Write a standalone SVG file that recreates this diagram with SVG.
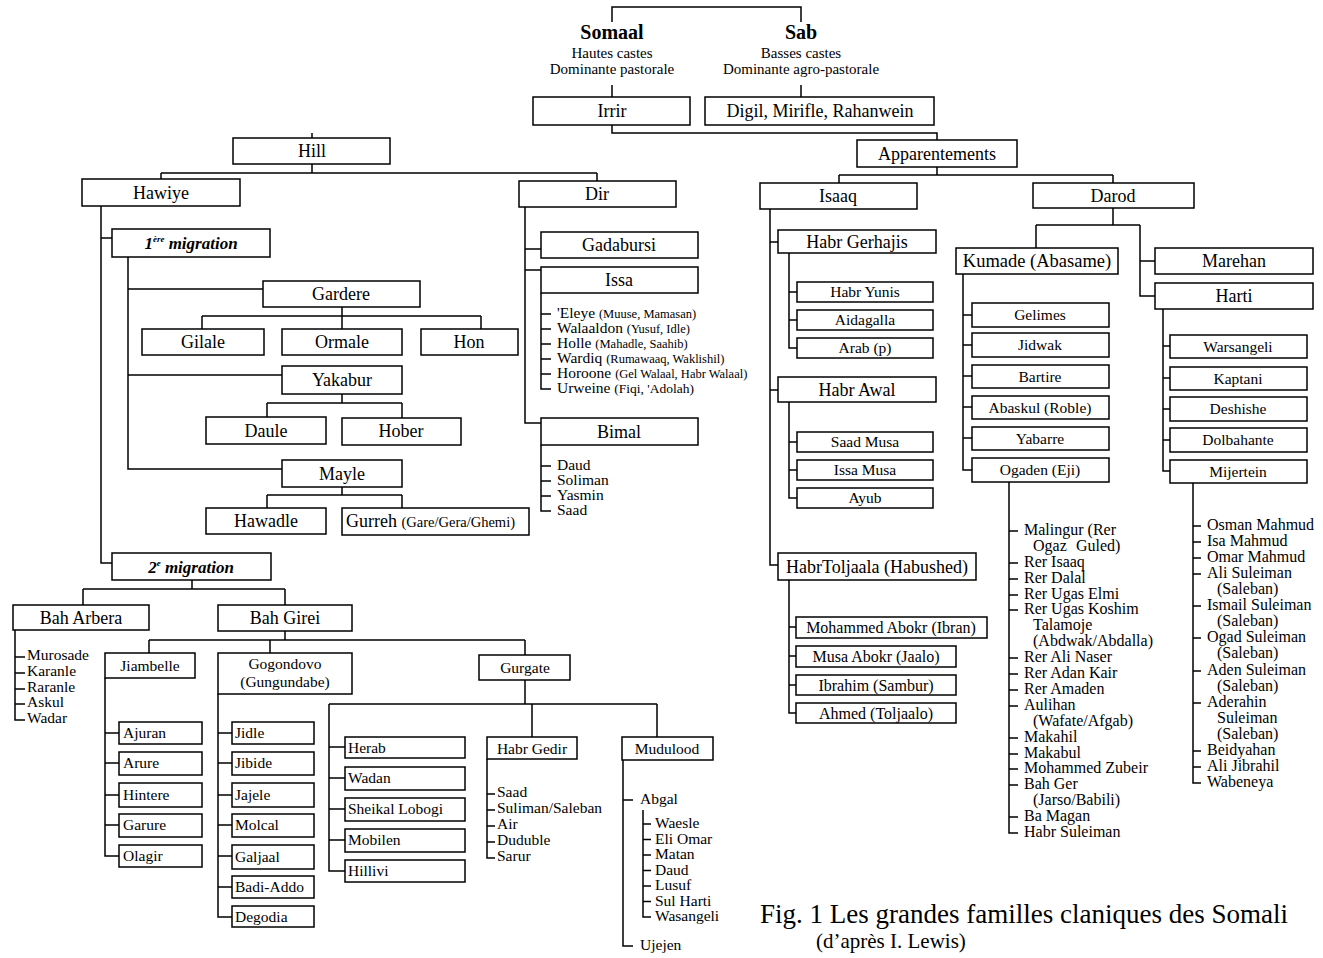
<svg xmlns="http://www.w3.org/2000/svg" width="1323" height="958" viewBox="0 0 1323 958">
<style>
text{font-family:"Liberation Serif","Times New Roman",serif;fill:#000}
.b{fill:#fff;stroke:#000;stroke-width:1.5}
.c{fill:none;stroke:#000;stroke-width:1.5}
.m{text-anchor:middle}
.f18{font-size:18px}
.f16{font-size:16px}
.f15{font-size:15.5px}
.sm{font-size:12.5px}
.bi{font-weight:bold;font-style:italic;font-size:17px}
</style>
<rect width="1323" height="958" fill="#fff"/>
<g id="connectors" class="c">
<path d="M612,22V7H801V22M612,85V97M801,85V97M612,125V133H937V140M312,133V138M312,164V173M161,173H597M161,173V179M597,173V181M937,167V175M839,175H1113M839,175V183M1113,175V183"/>
<path d="M101,206V563H112M101,238H112M128,257V469H282M128,289H263M128,375H282M342,307V316M202,316H481M202,316V329M342,316V329M481,316V329M342,394V403M267,403H402M267,403V417M402,403V418M342,487V495M267,495H402M267,495V508M402,495V508"/>
<path d="M192,580V589M83,589H285M83,589V605M285,589V605M15,630V720H25M15,657H25M15,673H25M15,689H25M15,704H25"/>
<path d="M285,631V640M149,640H525M149,640V653M270,640V653M525,640V655"/>
<path d="M105,678V856H119M105,733H119M105,763H119M105,795H119M105,825H119"/>
<path d="M218,694V917H232M218,733H232M218,763H232M218,795H232M218,825H232M218,856H232M218,887H232"/>
<path d="M525,680V704M329,704H657M329,704V871H345M329,747H345M329,778H345M329,809H345M329,840H345M532,704V737M657,704V737"/>
<path d="M487,759V858H495M487,794H495M487,810H495M487,826H495M487,842H495"/>
<path d="M623,760V946H633M623,800H633M643,810V917H651M643,824H651M643,839.5H651M643,855H651M643,870.5H651M643,886H651M643,901.5H651"/>
<path d="M525,207V423H541M525,249H541M525,270H541M541,293V389H551M541,314H551M541,329H551M541,344H551M541,359H551M541,374H551M541,445V511H551M541,466H551M541,481H551M541,496H551"/>
<path d="M770,209V565H778M770,242H778M770,390H778M789,253V348H797M789,292H797M789,320H797M789,402V498H797M789,442H797M789,470H797M789,580V713H796M789,627H796M789,656H796M789,685H796"/>
<path d="M1113,208V225M1036,225H1140M1036,225V248M1140,225V296H1155M1140,261H1155M963,274V470H972M963,315H972M963,345H972M963,376H972M963,407H972M963,438H972M1163,309V471H1170M1163,346H1170M1163,378H1170M1163,409H1170M1163,440H1170"/>
<path d="M1009,482V833H1018M1009,531H1018M1009,563H1018M1009,579H1018M1009,595H1018M1009,610H1018M1009,658H1018M1009,674H1018M1009,690H1018M1009,706H1018M1009,738H1018M1009,754H1018M1009,769H1018M1009,785H1018M1009,817H1018"/>
<path d="M1193,483V783H1201M1193,526H1201M1193,542H1201M1193,558H1201M1193,574H1201M1193,606H1201M1193,638H1201M1193,671H1201M1193,703H1201M1193,751H1201M1193,767H1201"/>
</g>
<g id="somaal"><text x="612" y="39" class="m" font-size="20" font-weight="bold">Somaal</text><text x="612" y="58" class="m" font-size="15">Hautes castes</text><text x="612" y="74" class="m" font-size="15">Dominante pastorale</text></g>
<g id="sab"><text x="801" y="39" class="m" font-size="20" font-weight="bold">Sab</text><text x="801" y="58" class="m" font-size="15">Basses castes</text><text x="801" y="74" class="m" font-size="15">Dominante agro-pastorale</text></g>
<g id="irrir"><rect class="b" x="533" y="97" width="157" height="28"/><text x="612" y="117" class="m f18">Irrir</text></g>
<g id="digil"><rect class="b" x="705" y="97" width="229" height="28"/><text x="820" y="117" class="m f18">Digil, Mirifle, Rahanwein</text></g>
<g id="hill"><rect class="b" x="233" y="138" width="157" height="26"/><text x="312" y="157" class="m f18">Hill</text></g>
<g id="apparentements"><rect class="b" x="857" y="140" width="160" height="27"/><text x="937" y="159.5" class="m f18">Apparentements</text></g>
<g id="hawiye"><rect class="b" x="82" y="179" width="158" height="27"/><text x="161" y="198.5" class="m f18">Hawiye</text></g>
<g id="dir"><rect class="b" x="519" y="181" width="157" height="26"/><text x="597" y="200" class="m f18">Dir</text></g>
<g id="isaaq"><rect class="b" x="760" y="183" width="157" height="26"/><text x="838" y="202" class="m f18">Isaaq</text></g>
<g id="darod"><rect class="b" x="1033" y="183" width="161" height="25"/><text x="1113" y="201.5" class="m f18">Darod</text></g>
<g id="migration1"><rect class="b" x="112" y="229" width="158" height="28"/><text x="191" y="249" class="m bi">1<tspan font-size="9" dy="-7">ère</tspan><tspan dy="7"> migration</tspan></text></g>
<g id="gardere"><rect class="b" x="263" y="281" width="157" height="26"/><text x="341" y="300" class="m f18">Gardere</text></g>
<g id="gilale"><rect class="b" x="142" y="329" width="122" height="26"/><text x="203" y="348" class="m f18">Gilale</text></g>
<g id="ormale"><rect class="b" x="282" y="329" width="120" height="26"/><text x="342" y="348" class="m f18">Ormale</text></g>
<g id="hon"><rect class="b" x="421" y="329" width="97" height="26"/><text x="469" y="348" class="m f18">Hon</text></g>
<g id="yakabur"><rect class="b" x="282" y="366" width="120" height="28"/><text x="342" y="386" class="m f18">Yakabur</text></g>
<g id="daule"><rect class="b" x="206" y="417" width="120" height="27"/><text x="266" y="437" class="m f18">Daule</text></g>
<g id="hober"><rect class="b" x="342" y="418" width="119" height="27"/><text x="401" y="437" class="m f18">Hober</text></g>
<g id="mayle"><rect class="b" x="282" y="460" width="120" height="27"/><text x="342" y="479.5" class="m f18">Mayle</text></g>
<g id="hawadle"><rect class="b" x="206" y="508" width="120" height="26"/><text x="266" y="527" class="m f18">Hawadle</text></g>
<g id="gurreh"><rect class="b" x="342" y="508" width="187" height="27"/><text x="346" y="527" class="f18">Gurreh <tspan font-size="14.5">(Gare/Gera/Ghemi)</tspan></text></g>
<g id="migration2"><rect class="b" x="112" y="553" width="159" height="27"/><text x="191" y="572.5" class="m bi">2<tspan font-size="9" dy="-7">e</tspan><tspan dy="7"> migration</tspan></text></g>
<g id="baharbera"><rect class="b" x="13" y="605" width="136" height="25"/><text x="81" y="623.5" class="m f18">Bah Arbera</text>
<text class="f15" x="27" y="660">Murosade</text><text class="f15" x="27" y="676">Karanle</text><text class="f15" x="27" y="692">Raranle</text><text class="f15" x="27" y="707">Askul</text><text class="f15" x="27" y="723">Wadar</text></g>
<g id="bahgirei"><rect class="b" x="218" y="605" width="134" height="26"/><text x="285" y="623.5" class="m f18">Bah Girei</text></g>
<g id="jiambelle"><rect class="b" x="105" y="653" width="90" height="25"/><text x="150" y="670.5" class="m f15">Jiambelle</text></g>
<g id="gogondovo"><rect class="b" x="218" y="653" width="134" height="41"/><text x="285" y="669" class="m f15">Gogondovo</text><text x="285" y="687" class="m f15">(Gungundabe)</text></g>
<g id="gurgate"><rect class="b" x="479" y="655" width="91" height="25"/><text x="525" y="672.5" class="m f15">Gurgate</text></g>
<g id="jiambelle-children" class="f15">
<rect class="b" x="119" y="722" width="83" height="22"/><text x="123" y="738">Ajuran</text>
<rect class="b" x="119" y="752" width="83" height="23"/><text x="123" y="768">Arure</text>
<rect class="b" x="119" y="783" width="83" height="24"/><text x="123" y="800">Hintere</text>
<rect class="b" x="119" y="814" width="83" height="23"/><text x="123" y="830">Garure</text>
<rect class="b" x="119" y="845" width="83" height="22"/><text x="123" y="861">Olagir</text>
</g>
<g id="gogondovo-children" class="f15">
<rect class="b" x="232" y="722" width="82" height="22"/><text x="235" y="738">Jidle</text>
<rect class="b" x="232" y="752" width="82" height="23"/><text x="235" y="768">Jibide</text>
<rect class="b" x="232" y="783" width="82" height="24"/><text x="235" y="800">Jajele</text>
<rect class="b" x="232" y="814" width="82" height="23"/><text x="235" y="830">Molcal</text>
<rect class="b" x="232" y="845" width="82" height="24"/><text x="235" y="862">Galjaal</text>
<rect class="b" x="232" y="876" width="82" height="22"/><text x="235" y="892">Badi-Addo</text>
<rect class="b" x="232" y="906" width="82" height="21"/><text x="235" y="922">Degodia</text>
</g>
<g id="gurgate-children" class="f15">
<rect class="b" x="345" y="737" width="120" height="21"/><text x="348" y="753">Herab</text>
<rect class="b" x="345" y="767" width="120" height="23"/><text x="348" y="783">Wadan</text>
<rect class="b" x="345" y="798" width="120" height="23"/><text x="348" y="814">Sheikal Lobogi</text>
<rect class="b" x="345" y="829" width="120" height="23"/><text x="348" y="845">Mobilen</text>
<rect class="b" x="345" y="860" width="120" height="22"/><text x="348" y="876">Hillivi</text>
</g>
<g id="habrgedir"><rect class="b" x="487" y="737" width="90" height="22"/><text x="532" y="753.5" class="m f15">Habr Gedir</text>
<text class="f15" x="497" y="797">Saad</text><text class="f15" x="497" y="813">Suliman/Saleban</text><text class="f15" x="497" y="829">Air</text><text class="f15" x="497" y="845">Duduble</text><text class="f15" x="497" y="861">Sarur</text></g>
<g id="mudulood"><rect class="b" x="622" y="737" width="91" height="23"/><text x="667" y="754" class="m f15">Mudulood</text>
<text class="f15" x="640" y="804">Abgal</text>
<text class="f15" x="655" y="828">Waesle</text><text class="f15" x="655" y="843.5">Eli Omar</text><text class="f15" x="655" y="859">Matan</text><text class="f15" x="655" y="874.5">Daud</text><text class="f15" x="655" y="890">Lusuf</text><text class="f15" x="655" y="905.5">Sul Harti</text><text class="f15" x="655" y="921">Wasangeli</text>
<text class="f15" x="640" y="950">Ujejen</text></g>
<g id="gadabursi"><rect class="b" x="541" y="232" width="157" height="26"/><text x="619" y="251" class="m f18">Gadabursi</text></g>
<g id="issa"><rect class="b" x="541" y="267" width="157" height="26"/><text x="619" y="286" class="m f18">Issa</text>
<text class="f15" x="557" y="318">'Eleye <tspan class="sm">(Muuse, Mamasan)</tspan></text>
<text class="f15" x="557" y="333">Walaaldon <tspan class="sm">(Yusuf, Idle)</tspan></text>
<text class="f15" x="557" y="348">Holle <tspan class="sm">(Mahadle, Saahib)</tspan></text>
<text class="f15" x="557" y="363">Wardiq <tspan class="sm">(Rumawaaq, Waklishil)</tspan></text>
<text class="f15" x="557" y="378">Horoone <tspan class="sm">(Gel Walaal, Habr Walaal)</tspan></text>
<text class="f15" x="557" y="393">Urweine <tspan font-size="13.5">(Fiqi, 'Adolah)</tspan></text></g>
<g id="bimal"><rect class="b" x="541" y="418" width="157" height="27"/><text x="619" y="437.5" class="m f18">Bimal</text>
<text class="f15" x="557" y="470">Daud</text><text class="f15" x="557" y="485">Soliman</text><text class="f15" x="557" y="500">Yasmin</text><text class="f15" x="557" y="515">Saad</text></g>
<g id="habrgerhajis"><rect class="b" x="778" y="230" width="158" height="23"/><text x="857" y="247.5" class="m f18">Habr Gerhajis</text>
<rect class="b" x="797" y="282" width="136" height="20"/><text x="865" y="297" class="m f15">Habr Yunis</text>
<rect class="b" x="797" y="310" width="136" height="20"/><text x="865" y="325" class="m f15">Aidagalla</text>
<rect class="b" x="797" y="338" width="136" height="20"/><text x="865" y="353" class="m f15">Arab (p)</text></g>
<g id="habrawal"><rect class="b" x="778" y="377" width="158" height="25"/><text x="857" y="395.5" class="m f18">Habr Awal</text>
<rect class="b" x="797" y="432" width="136" height="20"/><text x="865" y="447" class="m f15">Saad Musa</text>
<rect class="b" x="797" y="460" width="136" height="20"/><text x="865" y="475" class="m f15">Issa Musa</text>
<rect class="b" x="797" y="488" width="136" height="20"/><text x="865" y="503" class="m f15">Ayub</text></g>
<g id="habrtoljaala"><rect class="b" x="778" y="553" width="198" height="27"/><text x="877" y="572.5" class="m f18">HabrToljaala (Habushed)</text>
<rect class="b" x="796" y="617" width="191" height="21"/><text x="891" y="633" class="m f16">Mohammed Abokr (Ibran)</text>
<rect class="b" x="796" y="646" width="160" height="21"/><text x="876" y="662" class="m f16">Musa Abokr (Jaalo)</text>
<rect class="b" x="796" y="675" width="160" height="20"/><text x="876" y="690.5" class="m f16">Ibrahim (Sambur)</text>
<rect class="b" x="796" y="703" width="160" height="20"/><text x="876" y="718.5" class="m f16">Ahmed (Toljaalo)</text></g>
<g id="kumade"><rect class="b" x="956" y="248" width="162" height="26"/><text x="1037" y="267" class="m" font-size="18.5">Kumade (Abasame)</text>
<rect class="b" x="972" y="303" width="137" height="24"/><text x="1040" y="320" class="m f15">Gelimes</text>
<rect class="b" x="972" y="333" width="137" height="24"/><text x="1040" y="350" class="m f15">Jidwak</text>
<rect class="b" x="972" y="365" width="137" height="23"/><text x="1040" y="381.5" class="m f15">Bartire</text>
<rect class="b" x="972" y="396" width="137" height="23"/><text x="1040" y="412.5" class="m f15">Abaskul (Roble)</text>
<rect class="b" x="972" y="427" width="137" height="23"/><text x="1040" y="443.5" class="m f15">Yabarre</text>
<rect class="b" x="972" y="458" width="137" height="24"/><text x="1040" y="475" class="m f15">Ogaden (Eji)</text></g>
<g id="marehan"><rect class="b" x="1155" y="248" width="158" height="26"/><text x="1234" y="267" class="m f18">Marehan</text></g>
<g id="harti"><rect class="b" x="1155" y="283" width="158" height="26"/><text x="1234" y="302" class="m f18">Harti</text>
<rect class="b" x="1170" y="335" width="137" height="23"/><text x="1238" y="351.5" class="m f15">Warsangeli</text>
<rect class="b" x="1170" y="367" width="137" height="23"/><text x="1238" y="383.5" class="m f15">Kaptani</text>
<rect class="b" x="1170" y="397" width="137" height="24"/><text x="1238" y="414" class="m f15">Deshishe</text>
<rect class="b" x="1170" y="428" width="137" height="24"/><text x="1238" y="445" class="m f15">Dolbahante</text>
<rect class="b" x="1170" y="460" width="137" height="23"/><text x="1238" y="476.5" class="m f15">Mijertein</text></g>
<g id="ogaden-list" class="f16">
<text x="1024" y="535">Malingur (Rer</text>
<text x="1033" y="551">Ogaz</text><text x="1076" y="551">Guled)</text>
<text x="1024" y="567">Rer Isaaq</text>
<text x="1024" y="583">Rer Dalal</text>
<text x="1024" y="599">Rer Ugas Elmi</text>
<text x="1024" y="614">Rer Ugas Koshim</text>
<text x="1033" y="630">Talamoje</text>
<text x="1033" y="646">(Abdwak/Abdalla)</text>
<text x="1024" y="662">Rer Ali Naser</text>
<text x="1024" y="678">Rer Adan Kair</text>
<text x="1024" y="694">Rer Amaden</text>
<text x="1024" y="710">Aulihan</text>
<text x="1033" y="726">(Wafate/Afgab)</text>
<text x="1024" y="742">Makahil</text>
<text x="1024" y="758">Makabul</text>
<text x="1024" y="773">Mohammed Zubeir</text>
<text x="1024" y="789">Bah Ger</text>
<text x="1033" y="805">(Jarso/Babili)</text>
<text x="1024" y="821">Ba Magan</text>
<text x="1024" y="837">Habr Suleiman</text>
</g>
<g id="mijertein-list" class="f16">
<text x="1207" y="530">Osman Mahmud</text>
<text x="1207" y="546">Isa Mahmud</text>
<text x="1207" y="562">Omar Mahmud</text>
<text x="1207" y="578">Ali Suleiman</text>
<text x="1217" y="594">(Saleban)</text>
<text x="1207" y="610">Ismail Suleiman</text>
<text x="1217" y="626">(Saleban)</text>
<text x="1207" y="642">Ogad Suleiman</text>
<text x="1217" y="658">(Saleban)</text>
<text x="1207" y="675">Aden Suleiman</text>
<text x="1217" y="691">(Saleban)</text>
<text x="1207" y="707">Aderahin</text>
<text x="1217" y="723">Suleiman</text>
<text x="1217" y="739">(Saleban)</text>
<text x="1207" y="755">Beidyahan</text>
<text x="1207" y="771">Ali Jibrahil</text>
<text x="1207" y="787">Wabeneya</text>
</g>
<g id="caption"><text x="760" y="923" font-size="27">Fig. 1 Les grandes familles claniques des Somali</text><text x="816" y="948" font-size="21">(d’après I. Lewis)</text></g>
</svg>
